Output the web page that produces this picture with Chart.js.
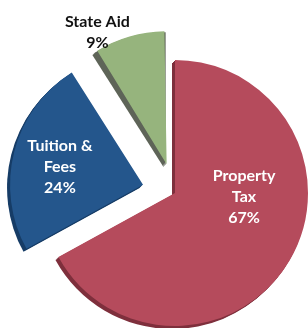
<!DOCTYPE html>
<html>
<head>
<meta charset="utf-8">
<script src="https://cdn.jsdelivr.net/npm/chart.js@4"></script>
<style>
  html, body { margin: 0; padding: 0; background: #fff; }
  #wrap { width: 308px; height: 328px; }
</style>
</head>
<body>
<div id="wrap"><canvas id="pie"></canvas></div>
<script>
// Data
const labels = [['Property', 'Tax'], ['Tuition &', 'Fees'], ['State Aid']];
const shares = [67, 24, 9];

// Styles
const colors = ['#b54b5c', '#24568c', '#96b47d'];
const sideColors = ['#7e2f3c', '#163c66', '#5e6458'];
// Chart.js moves an arc by offset / 4
const offsets = [0, 132, 120];
const labelColors = ['#ffffff', '#ffffff', '#111111'];
// label anchor: turn from mid angle (deg) and distance as share of radius
const labelTurn = [-27, -2, -11.5];
const labelDist = [0.52, 0.64, 1.12];

const font = 'bold 16px Lato, "Open Sans", sans-serif';

// where the library actually puts an arc (centre shift and drawn radius)
const arcGeom = (arc) => {
  const mid = (arc.startAngle + arc.endAngle) / 2;
  const off = (arc.options.offset || 0) / 4;
  const fix = 1 - Math.sin(Math.min(Math.PI, arc.circumference));
  return {
    mid: mid,
    cx: arc.x + Math.cos(mid) * off,
    cy: arc.y + Math.sin(mid) * off,
    r: arc.outerRadius + off * fix
  };
};

// keep every slice the same radius: the library grows narrow offset slices
const radiusPlugin = {
  id: 'sameRadius',
  afterDatasetUpdate(chart) {
    chart.getDatasetMeta(0).data.forEach((arc) => {
      const off = (arc.options.offset || 0) / 4;
      const fix = 1 - Math.sin(Math.min(Math.PI, arc.circumference));
      arc.outerRadius -= off * fix;
    });
  }
};

// Draws a thin extruded side under each slice (3D look)
const depthPlugin = {
  id: 'depth',
  beforeDatasetsDraw(chart) {
    const ctx = chart.ctx;
    chart.getDatasetMeta(0).data.forEach((arc, i) => {
      const g = arcGeom(arc);
      ctx.save();
      ctx.fillStyle = sideColors[i];
      for (let d = 1; d <= 3; d++) {
        ctx.beginPath();
        ctx.moveTo(g.cx - d, g.cy + d);
        ctx.arc(g.cx - d, g.cy + d, g.r, arc.startAngle, arc.endAngle);
        ctx.closePath();
        ctx.fill();
      }
      ctx.restore();
    });
  }
};

// Draws the category name and percent for each slice
const labelPlugin = {
  id: 'sliceLabels',
  afterDatasetsDraw(chart) {
    const ctx = chart.ctx;
    chart.getDatasetMeta(0).data.forEach((arc, i) => {
      const g = arcGeom(arc);
      const a = g.mid + labelTurn[i] * Math.PI / 180;
      const r = g.r * labelDist[i];
      const x = g.cx + Math.cos(a) * r;
      const y = g.cy + Math.sin(a) * r;
      const lines = [...labels[i], shares[i] + '%'];
      const lh = 21;
      ctx.save();
      ctx.font = font;
      ctx.fillStyle = labelColors[i];
      ctx.textAlign = 'center';
      ctx.textBaseline = 'middle';
      lines.forEach((t, k) => {
        ctx.fillText(t, x, y + (k - (lines.length - 1) / 2) * lh);
      });
      ctx.restore();
    });
  }
};

new Chart(document.querySelector('#pie'), {
  type: 'pie',
  data: {
    labels: labels,
    datasets: [{
      data: shares,
      backgroundColor: colors,
      borderWidth: 0,
      offset: offsets
    }]
  },
  options: {
    responsive: true,
    maintainAspectRatio: false,
    animation: false,
    radius: 133,
    layout: { padding: { left: 42, right: 0, top: 58, bottom: 0 } },
    plugins: {
      legend: { display: false },
      tooltip: { enabled: false }
    }
  },
  plugins: [radiusPlugin, depthPlugin, labelPlugin]
});
</script>
</body>
</html>
